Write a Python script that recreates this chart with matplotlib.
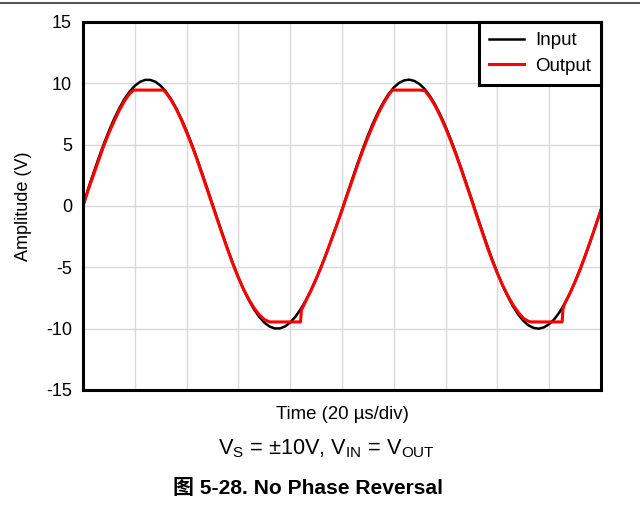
import matplotlib
matplotlib.use("Agg")
import matplotlib.pyplot as plt
from matplotlib.lines import Line2D

plt.rcParams['font.family'] = ['Liberation Sans', 'Noto Sans CJK SC', 'DejaVu Sans']
plt.rcParams['mathtext.fontset'] = 'custom'
plt.rcParams['mathtext.rm'] = 'Liberation Sans'

# time in microseconds (20 us per division, 10 divisions), read every 2 us
input_time = [0, 2, 4, 6, 8, 10, 12, 14, 16, 18, 20, 22, 24, 26, 28, 30, 32, 34, 36,
              38, 40, 42, 44, 46, 48, 50, 52, 54, 56, 58, 60, 62, 64, 66, 68, 70, 72,
              74, 76, 78, 80, 82, 84, 86, 88, 90, 92, 94, 96, 98,
              100, 102, 104, 106, 108, 110, 112, 114, 116, 118, 120, 122, 124, 126,
              128, 130, 132, 134, 136, 138, 140, 142, 144, 146, 148, 150, 152, 154,
              156, 158, 160, 162, 164, 166, 168, 170, 172, 174, 176, 178, 180, 182,
              184, 186, 188, 190, 192, 194, 196, 198, 200]
input_volts = [0.0, 1.42, 2.67, 3.89, 5.04, 6.12, 7.10, 7.97, 8.72, 9.33, 9.80, 10.12,
               10.28, 10.28, 10.12, 9.80, 9.33, 8.72, 7.97, 7.10, 6.12, 5.04, 3.89,
               2.67, 1.42, 0.15, -1.12, -2.37, -3.59, -4.74, -5.82, -6.80, -7.67,
               -8.42, -9.03, -9.50, -9.82, -9.98, -9.98, -9.82, -9.50, -9.03, -8.42,
               -7.71, -6.88, -5.95, -4.94, -3.85, -2.69, -1.51,
               -0.30, 0.98, 2.24, 3.47, 4.64, 5.75, 6.77, 7.68, 8.47, 9.14, 9.66,
               10.03, 10.24, 10.30, 10.19, 9.93, 9.52, 8.95, 8.25, 7.42, 6.47, 5.43,
               4.30, 3.10, 1.86, 0.60, -0.68, -1.94, -3.17, -4.34, -5.45, -6.47,
               -7.38, -8.17, -8.84, -9.36, -9.73, -9.94, -10.00, -9.89, -9.63, -9.22,
               -8.65, -7.95, -7.12, -6.17, -5.13, -4.00, -2.80, -1.56, -0.30]

output_time = [0, 2, 4, 6, 8, 10, 12, 14, 16, 18, 19.5, 31, 32, 34, 36, 38, 40, 42,
               44, 46, 48, 50, 52, 54, 56, 58, 60, 62, 64, 66, 68, 70, 72, 84, 84.3,
               86, 88, 90, 92, 94, 96, 98,
               100, 102, 104, 106, 108, 110, 112, 114, 116, 118, 119.5, 130, 132, 134,
               136, 138, 140, 142, 144, 146, 148, 150, 152, 154, 156, 158, 160, 162,
               164, 166, 168, 170, 172, 173, 185, 185.3, 186, 188, 190, 192, 194, 196,
               198, 200]
output_volts = [0.0, 1.3, 2.5, 3.7, 4.9, 5.95, 6.9, 7.8, 8.55, 9.15, 9.45, 9.45, 9.25,
                8.65, 7.9, 7.0, 6.0, 4.95, 3.8, 2.55, 1.3, 0.05, -1.2, -2.45, -3.65,
                -4.8, -5.85, -6.8, -7.6, -8.3, -8.85, -9.25, -9.45, -9.45, -8.5, -7.75,
                -6.9, -5.95, -4.95, -3.85, -2.7, -1.55,
                -0.35, 0.9, 2.1, 3.35, 4.5, 5.6, 6.6, 7.55, 8.35, 9.05, 9.45, 9.45,
                9.4, 8.85, 8.15, 7.3, 6.35, 5.3, 4.2, 3.0, 1.75, 0.5, -0.8, -2.05,
                -3.3, -4.45, -5.5, -6.45, -7.3, -8.05, -8.65, -9.15, -9.4, -9.45,
                -9.45, -8.4, -7.95, -7.12, -6.17, -5.13, -4.0, -2.8, -1.56, -0.3]

x_grid = [0, 20, 40, 60, 80, 100, 120, 140, 160, 180, 200]
y_ticks = [-15, -10, -5, 0, 5, 10, 15]

fig = plt.figure(figsize=(6.4, 5.12), dpi=100)
ax = fig.add_axes([83 / 640, 1 - 390 / 512, 518 / 640, 368 / 512])

ax.plot(input_time, input_volts, color='black', linewidth=1.8, label='Input')
ax.plot(output_time, output_volts, color='#ff0000', linewidth=2.2, label='Output')

ax.set_xlim(0, 200)
ax.set_ylim(-15, 15)
ax.set_xticks(x_grid)
ax.set_xticklabels([])
ax.set_yticks(y_ticks)
ax.set_yticklabels([str(v) for v in y_ticks])
ax.tick_params(axis='both', length=0, labelsize=13)
ax.tick_params(axis='y', pad=8)
ax.grid(color='#d9d9d9', linewidth=1.0)
ax.set_axisbelow(True)
for s in ax.spines.values():
    s.set_linewidth(2.2)
    s.set_color('black')

ax.set_ylabel('Amplitude (V)', fontsize=13, labelpad=10)
ax.set_xlabel('Time (20 µs/div)', fontsize=13.4, labelpad=8)

leg = ax.legend(loc='upper right', borderaxespad=0, fontsize=13.5, fancybox=False,
                framealpha=1, edgecolor='black', handlelength=1.85,
                handletextpad=0.6, labelspacing=0.45, borderpad=0.55)
leg.get_frame().set_linewidth(2.2)

fig.text(326 / 640, 1 - 449 / 512,
         r'V$_\mathregular{S}$ = ±10V, V$_\mathregular{IN}$ = V$_\mathregular{OUT}$',
         fontsize=15.7, ha='center', va='center')
fig.text(308 / 640, 1 - 489 / 512, '图 5-28. No Phase Reversal',
         fontsize=15.1, fontweight='bold', ha='center', va='center')

# page rule across the top
fig.add_artist(Line2D([0, 1], [1 - 3 / 512, 1 - 3 / 512], color='#555555',
                      linewidth=1.5, transform=fig.transFigure))

fig.savefig('out.png', dpi=100)
